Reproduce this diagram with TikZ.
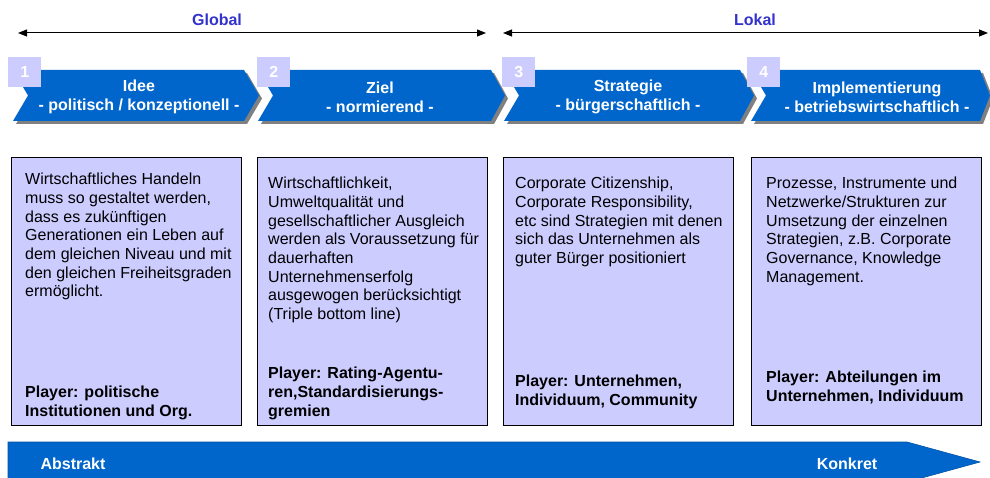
\documentclass[tikz,border=0pt]{standalone}
\usepackage{fontspec}
\setmainfont{Liberation Sans}
\usetikzlibrary{arrows.meta}
\definecolor{chevblau}{HTML}{0066CC}
\definecolor{lila}{HTML}{CCCCFF}
\definecolor{ebenenblau}{HTML}{3333CC}
\definecolor{schatten}{HTML}{808080}
\tikzset{spitze/.tip={Triangle[length=9pt,width=7pt]}}
\begin{document}
\begin{tikzpicture}[x=1pt,y=-1pt,
    txt/.style={font=\fontsize{16}{18.7}\selectfont,inner sep=0pt,align=left,anchor=north west},
    player/.style={txt,font=\fontsize{16}{18.7}\selectfont\bfseries},
    chevtxt/.style={font=\fontsize{16}{19}\selectfont\bfseries,text=white,align=center,inner sep=0pt},
    nummer/.style={fill=lila,text=white,font=\fontsize{16}{16}\selectfont\bfseries,minimum width=33pt,minimum height=30pt,anchor=north west,inner sep=0pt},
    infobox/.style={draw=black,line width=1.2pt,fill=lila,anchor=north west,minimum width=230pt,minimum height=268pt,inner sep=0pt},
    ebene/.style={font=\fontsize{16}{16}\selectfont\bfseries,text=ebenenblau}]
    \fill[white] (0,0) rectangle (990,478);
    \useasboundingbox (0,0) rectangle (990,478);
    % Global / Lokal
    \coordinate (gl) at (18,33);
    \coordinate (gr) at (486,33);
    \coordinate (ll) at (503,33);
    \coordinate (lr) at (988,33);
    \draw[spitze-spitze,line width=1pt] (gl)--(gr);
    \draw[spitze-spitze,line width=1pt] (ll)--(lr);
    \node[ebene] (global) at (217,20) {Global};
    \node[ebene] (lokal) at (755,20) {Lokal};
    % Chevrons mit Schatten
    \foreach \x/\r/\t in {13/244/259,258/491/505,504/740/754,751/980/990}{
        \fill[schatten,shift={(3,3)}] (\x,70)--(\r,70)--(\t,95.5)--(\r,121)--(\x,121)--(\x+15,95.5)--cycle;
        \fill[chevblau] (\x,70)--(\r,70)--(\t,95.5)--(\r,121)--(\x,121)--(\x+15,95.5)--cycle;
    }
    \node[chevtxt] (c1) at (139,97) {Idee\\- politisch / konzeptionell -};
    \node[chevtxt] (c2) at (380,97) {Ziel\\- normierend -};
    \node[chevtxt] (c3) at (628,97) {Strategie\\- bürgerschaftlich -};
    \node[chevtxt] (c4) at (877,97) {Implementierung\\- betriebswirtschaftlich -};
    \node[nummer] (n1) at (8,57) {1};
    \node[nummer] (n2) at (257,57) {2};
    \node[nummer] (n3) at (502,57) {3};
    \node[nummer] (n4) at (747,57) {4};
    % Kaesten
    \node[infobox] (b1) at (11,157) {};
    \node[infobox] (b2) at (257,157) {};
    \node[infobox] (b3) at (503,157) {};
    \node[infobox] (b4) at (751,157) {};
    \node[txt] (t1) at (25,173) {Wirtschaftliches Handeln\\muss so gestaltet werden,\\dass es zukünftigen\\Generationen ein Leben auf\\dem gleichen Niveau und mit\\den gleichen Freiheitsgraden\\ermöglicht.};
    \node[txt] (t2) at (268,177) {Wirtschaftlichkeit,\\Umweltqualität und\\gesellschaftlicher Ausgleich\\werden als Voraussetzung für\\dauerhaften\\Unternehmenserfolg\\ausgewogen berücksichtigt\\(Triple bottom line)};
    \node[txt] (t3) at (515,177) {Corporate Citizenship,\\Corporate Responsibility,\\etc sind Strategien mit denen\\sich das Unternehmen als\\guter Bürger positioniert};
    \node[txt] (t4) at (766,177) {Prozesse, Instrumente und\\Netzwerke/Strukturen zur\\Umsetzung der einzelnen\\Strategien, z.B. Corporate\\Governance, Knowledge\\Management.};
    \node[player] (p1) at (25,386) {Player: politische\\Institutionen und Org.};
    \node[player] (p2) at (268,367) {Player: Rating-Agentu-\\ren,Standardisierungs-\\gremien};
    \node[player] (p3) at (515,375) {Player: Unternehmen,\\Individuum, Community};
    \node[player] (p4) at (766,371) {Player: Abteilungen im\\Unternehmen, Individuum};
    % Abstrakt -> Konkret
    \fill[chevblau,draw=chevblau!80!black,line width=0.6pt] (8,442)--(907,442)--(980,462)--(907,482)--(8,482)--cycle;
    \node[font=\fontsize{16}{16}\selectfont\bfseries,text=white] (abstrakt) at (73,464) {Abstrakt};
    \node[font=\fontsize{16}{16}\selectfont\bfseries,text=white] (konkret) at (847,464) {Konkret};
\end{tikzpicture}
\end{document}
